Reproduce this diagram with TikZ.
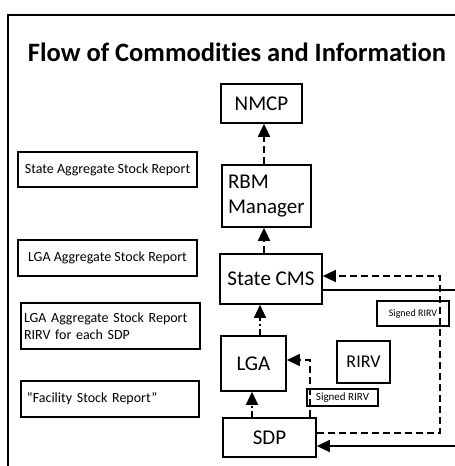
\documentclass[tikz,border=0pt]{standalone}
\usepackage{fontspec}
\setmainfont{Carlito}[Ligatures=NoCommon]
\usetikzlibrary{arrows.meta}

\tikzset{
  unit/.style={draw, line width=1.6pt, inner sep=0pt, font=\fontsize{21}{25}\selectfont},
  report/.style={draw, line width=1.6pt, inner sep=0pt, font=\fontsize{14}{17}\selectfont},
  tag/.style={draw, line width=1.6pt, inner sep=0pt, font=\fontsize{10}{12}\selectfont},
  flow/.style={line width=1.3pt, -{Triangle[length=13pt,width=12pt]}},
  longdash/.style={dash pattern=on 7pt off 4pt},
  dashdotted/.style={dash pattern=on 6pt off 3pt on 2pt off 3pt},
}

\begin{document}
\begin{tikzpicture}[x=1pt,y=-1pt]
  \useasboundingbox (0,0) rectangle (455,466);
  \clip (0,0) rectangle (455,466);

  % frame and title
  \draw[line width=1.5pt] (8,470) -- (8,15) -- (470,15);
  \node[font=\fontsize{26.5}{30}\selectfont\bfseries] (title) at (237,52) {Flow of Commodities and Information};

  % supply chain levels
  \node[unit, minimum width=81pt, minimum height=39pt] (nmcp) at (261.5,103.5) {NMCP};
  \node[unit, minimum width=89pt, minimum height=62pt, text width=77pt, align=left] (rbm) at (266.5,196) {RBM\\Manager};
  \node[unit, minimum width=102pt, minimum height=50pt] (cms) at (271,279) {State CMS};
  \node[unit, minimum width=65pt, minimum height=55pt] (lga) at (253.5,363.5) {LGA};
  \node[unit, minimum width=93pt, minimum height=39pt] (sdp) at (269.5,437.5) {SDP};
  \node[unit, font=\fontsize{18}{22}\selectfont, minimum width=53pt, minimum height=42pt] (rirv) at (363.5,362) {RIRV};

  % reports
  \node[report, minimum width=179pt, minimum height=35pt] (rstate) at (107.5,169.5) {State Aggregate Stock Report};
  \node[report, minimum width=179pt, minimum height=36pt] (rlga) at (107.5,258) {LGA Aggregate Stock Report};
  \node[report, minimum width=179pt, minimum height=46pt, text width=173pt, align=left] (rlgasdp) at (110.5,326) {LGA Aggregate Stock Report\\RIRV for each SDP};
  \node[report, minimum width=178pt, minimum height=36pt, text width=166pt, align=left] (rfac) at (110,399) {''Facility Stock Report''};

  \node[tag, minimum width=72pt, minimum height=25pt] (sign1) at (413,313.5) {Signed RIRV};
  \node[tag, font=\fontsize{11}{13}\selectfont, minimum width=71pt, minimum height=17pt] (sign2) at (342.5,397.5) {Signed RIRV};

  % information flow
  \draw[flow, longdash] ([xshift=-2.5pt]rbm.north) -- ([xshift=2.5pt]nmcp.south);
  \draw[flow, longdash] ([xshift=-7pt]cms.north) -- ([xshift=-2.5pt]rbm.south);
  \draw[flow, dashdotted] ([xshift=6.5pt]lga.north) -- ([xshift=-11pt]cms.south);
  \draw[flow, dashdotted] ([xshift=-17.5pt]sdp.north) -- ([xshift=-1.5pt]lga.south);
  \coordinate (c1) at (440,433);
  \coordinate (c2) at (440,276);
  \draw[flow, longdash] ([yshift=4.5pt]sdp.east) -- (c1) -- (c2) -- ([yshift=3pt]cms.east);
  \coordinate (c3) at (310,360);
  \draw[flow, longdash] ([xshift=40.5pt]sdp.north) -- (c3) -- ([yshift=3.5pt]lga.east);

  % commodity flow
  \coordinate (c4) at (470,290);
  \coordinate (c5) at (470,446);
  \draw[flow] ([yshift=-11pt]cms.east) -- (c4) -- (c5) -- ([yshift=-8.5pt]sdp.east);
\end{tikzpicture}
\end{document}
